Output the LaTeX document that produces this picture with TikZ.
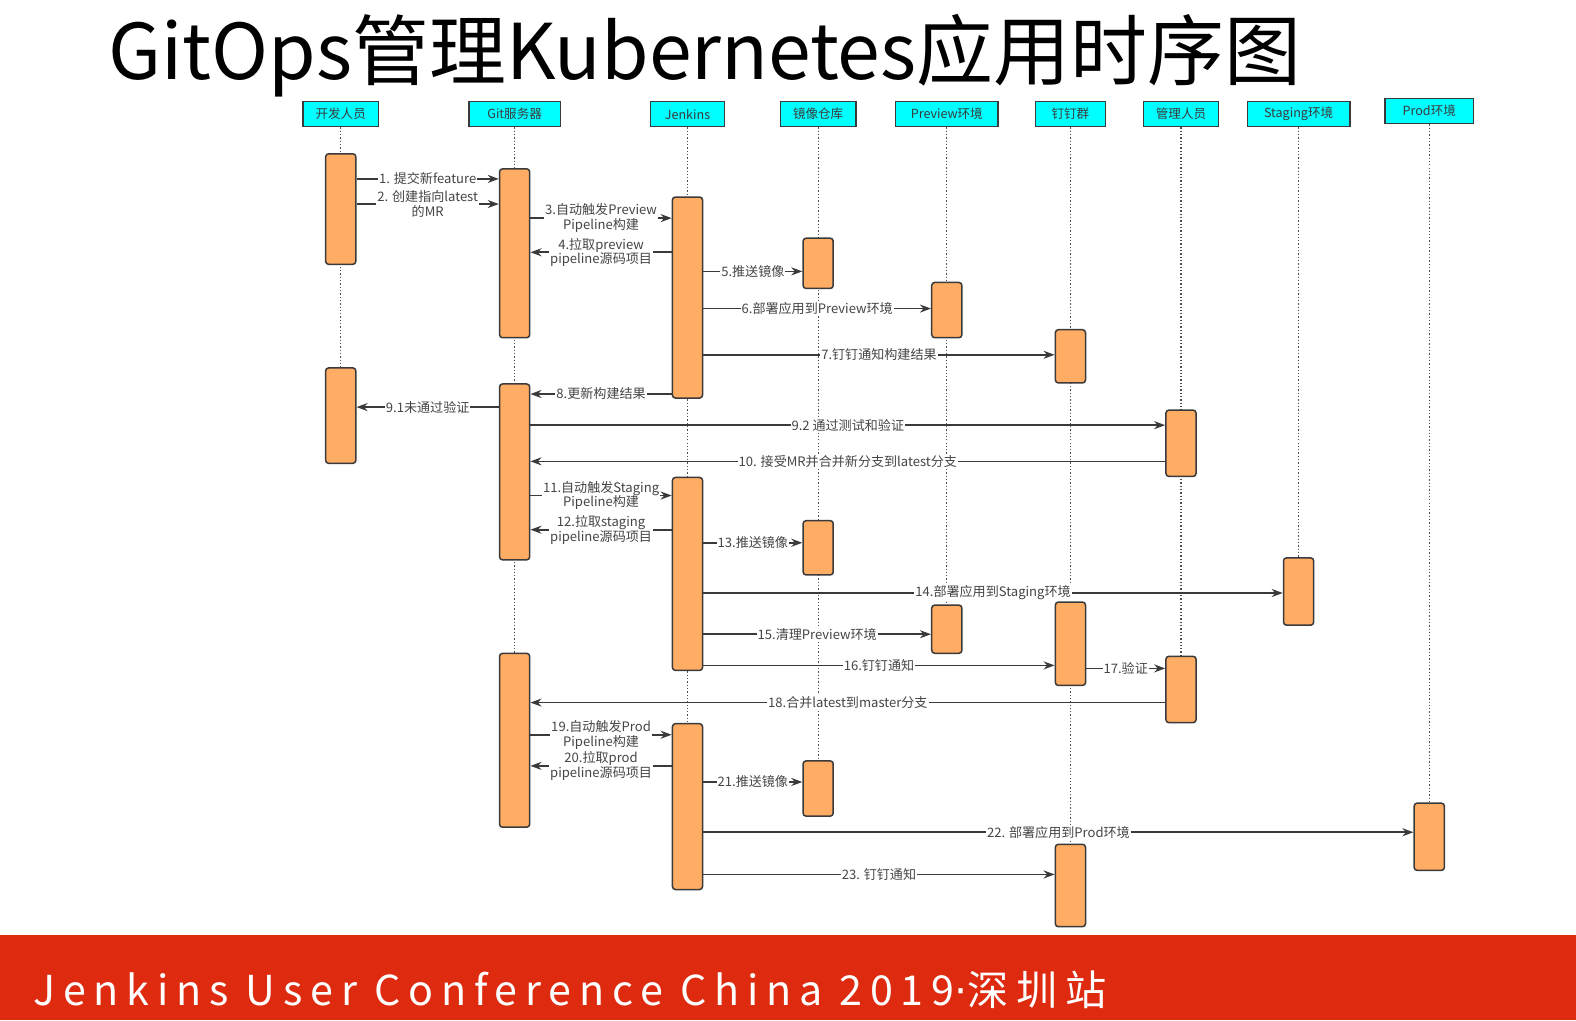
\documentclass[tikz,border=0pt]{standalone}
\usepackage{fontspec}
\setmainfont{Noto Sans CJK SC}
\newfontfamily\dotfont{DejaVu Sans}
\usetikzlibrary{arrows.meta}
\definecolor{hdrcyan}{HTML}{00FFFF}
\definecolor{barorange}{HTML}{FFAC64}
\definecolor{edge}{HTML}{3A3A3A}
\definecolor{lbltext}{HTML}{454545}
\definecolor{bandred}{HTML}{DE2B10}

\begin{document}
\begin{tikzpicture}[x=1pt, y=-1pt, >={Stealth[length=11pt,width=8pt]},
  hdr/.style={draw=edge, line width=1.5pt, fill=hdrcyan, minimum height=25pt, inner sep=0pt,
    font=\fontsize{12.5}{13}\selectfont, text=edge},
  bar/.style={draw=edge, line width=1.5pt, fill=barorange, rounded corners=3pt,
    minimum width=30pt, inner sep=0pt},
  life/.style={edge!90, line width=1.3pt, dash pattern=on 1.3pt off 2pt},
  msg/.style={->, edge, line width=1.6pt},
  lbl/.style={fill=white, inner sep=1pt, text=lbltext, align=center,
    font=\fontsize{13}{14.5}\selectfont}]

  \useasboundingbox (0,0) rectangle (1568,1015);

  % title
  \node[anchor=base west, inner sep=0pt, font=\fontsize{76.5}{77}\selectfont] (title) at (108,79)
    {GitOps管理Kubernetes应用时序图};

  % lifeline heads
  \node[hdr, minimum width=75pt]  (hdev)  at (339,113.5)  {开发人员};
  \node[hdr, minimum width=91pt]  (hgit)  at (512,113.5)  {Git服务器};
  \node[hdr, minimum width=74pt]  (hjen)  at (684,113.5)  {Jenkins};
  \node[hdr, minimum width=75pt]  (himg)  at (814,113.5)  {镜像仓库};
  \node[hdr, minimum width=102pt] (hpre)  at (942,113.5)  {Preview环境};
  \node[hdr, minimum width=70pt]  (hding) at (1065,113.5) {钉钉群};
  \node[hdr, minimum width=75pt]  (hmgr)  at (1175,113.5) {管理人员};
  \node[hdr, minimum width=102pt] (hstg)  at (1292,113.5) {Staging环境};
  \node[hdr, minimum width=88pt]  (hprod) at (1422,110.5) {Prod环境};

  % lifelines
  \draw[life] (hdev.south)  -- (hdev.south |- 0,461);
  \draw[life] (hgit.south)  -- (hgit.south |- 0,823);
  \draw[life] (hjen.south)  -- (hjen.south |- 0,885);
  \draw[life] (himg.south)  -- (himg.south |- 0,812);
  \draw[life] (hpre.south)  -- (hpre.south |- 0,650);
  \draw[life] (hding.south) -- (hding.south |- 0,922);
  \draw[life] (hmgr.south)  -- (hmgr.south |- 0,719);
  \draw[life] (hstg.south)  -- (hstg.south |- 0,622);
  \draw[life] (hprod.south) -- (hprod.south |- 0,799);

  % activation bars
  \node[bar, minimum height=110pt] (dev1)  at (339,208)    {};
  \node[bar, minimum height=95pt]  (dev2)  at (339,413.5)  {};
  \node[bar, minimum height=168pt] (git1)  at (512,252)    {};
  \node[bar, minimum height=175pt] (git2)  at (512,469.5)  {};
  \node[bar, minimum height=173pt] (git3)  at (512,736.5)  {};
  \node[bar, minimum height=200pt] (jen1)  at (684,296)    {};
  \node[bar, minimum height=192pt] (jen2)  at (684,571)    {};
  \node[bar, minimum height=165pt] (jen3)  at (684,802.5)  {};
  \node[bar, minimum height=50pt]  (img1)  at (814,262)    {};
  \node[bar, minimum height=54pt]  (img2)  at (814,545)    {};
  \node[bar, minimum height=55pt]  (img3)  at (814,784.5)  {};
  \node[bar, minimum height=55pt]  (pre1)  at (942,308.5)  {};
  \node[bar, minimum height=48pt]  (pre2)  at (942,626)    {};
  \node[bar, minimum height=53pt]  (ding1) at (1065,354.5) {};
  \node[bar, minimum height=83pt]  (ding2) at (1065,640.5) {};
  \node[bar, minimum height=82pt]  (ding3) at (1065,881)   {};
  \node[bar, minimum height=66pt]  (mgr1)  at (1175,441)   {};
  \node[bar, minimum height=66pt]  (mgr2)  at (1175,686)   {};
  \node[bar, minimum height=67pt]  (stg1)  at (1292,588.5) {};
  \node[bar, minimum height=67pt]  (prod1) at (1422,832.5) {};

  % preview round
  \draw[msg] (dev1.east |- 0,178) -- node[lbl] {1. 提交新feature} (git1.west |- 0,178);
  \draw[msg] (dev1.east |- 0,203) -- node[lbl] {2. 创建指向latest\\的MR} (git1.west |- 0,203);
  \draw[msg] (git1.east |- 0,217) -- node[lbl] {3.自动触发Preview\\Pipeline构建} (jen1.west |- 0,217);
  \draw[msg] (jen1.west |- 0,251) -- node[lbl] {4.拉取preview\\pipeline源码项目} (git1.east |- 0,251);
  \draw[msg] (jen1.east |- 0,270) -- node[lbl] {5.推送镜像} (img1.west |- 0,270);
  \draw[msg] (jen1.east |- 0,307) -- node[lbl] {6.部署应用到Preview环境} (pre1.west |- 0,307);
  \draw[msg] (jen1.east |- 0,353) -- node[lbl] {7.钉钉通知构建结果} (ding1.west |- 0,353);
  \draw[msg] (jen1.west |- 0,392) -- node[lbl] {8.更新构建结果} (git2.east |- 0,392);
  \draw[msg] (git2.west |- 0,405) -- node[lbl] {9.1未通过验证} (dev2.east |- 0,405);
  \draw[msg] (git2.east |- 0,423) -- node[lbl] {9.2 通过测试和验证} (mgr1.west |- 0,423);
  \draw[msg] (mgr1.west |- 0,459) -- node[lbl] {10. 接受MR并合并新分支到latest分支} (git2.east |- 0,459);

  % staging round
  \draw[msg] (git2.east |- 0,493) -- node[lbl] {11.自动触发Staging\\Pipeline构建} (jen2.west |- 0,493);
  \draw[msg] (jen2.west |- 0,527) -- node[lbl] {12.拉取staging\\pipeline源码项目} (git2.east |- 0,527);
  \draw[msg] (jen2.east |- 0,540) -- node[lbl] {13.推送镜像} (img2.west |- 0,540);
  \draw[msg] (jen2.east |- 0,590) -- node[lbl] {14.部署应用到Staging环境} (stg1.west |- 0,590);
  \draw[msg] (jen2.east |- 0,631) -- node[lbl] {15.清理Preview环境} (pre2.west |- 0,631);
  \draw[msg] (jen2.east |- 0,662) -- node[lbl] {16.钉钉通知} (ding2.west |- 0,662);
  \draw[msg] (ding2.east |- 0,665) -- node[lbl] {17.验证} (mgr2.west |- 0,665);
  \draw[msg] (mgr2.west |- 0,699) -- node[lbl] {18.合并latest到master分支} (git3.east |- 0,699);

  % prod round
  \draw[msg] (git3.east |- 0,731) -- node[lbl] {19.自动触发Prod\\Pipeline构建} (jen3.west |- 0,731);
  \draw[msg] (jen3.west |- 0,762) -- node[lbl] {20.拉取prod\\pipeline源码项目} (git3.east |- 0,762);
  \draw[msg] (jen3.east |- 0,778) -- node[lbl] {21.推送镜像} (img3.west |- 0,778);
  \draw[msg] (jen3.east |- 0,828) -- node[lbl] {22. 部署应用到Prod环境} (prod1.west |- 0,828);
  \draw[msg] (jen3.east |- 0,870) -- node[lbl] {23. 钉钉通知} (ding3.west |- 0,870);

  % footer band
  \fill[bandred] (0,930) rectangle (1568,1015);
  \node[anchor=base west, inner sep=0pt, text=white,
    font=\fontsize{41}{41}\selectfont\addfontfeatures{LetterSpace=19}] (footer) at (33,1000)
    {Jenkins User Conference China 2019{\dotfont\addfontfeatures{LetterSpace=5}·}深圳站};
\end{tikzpicture}
\end{document}
